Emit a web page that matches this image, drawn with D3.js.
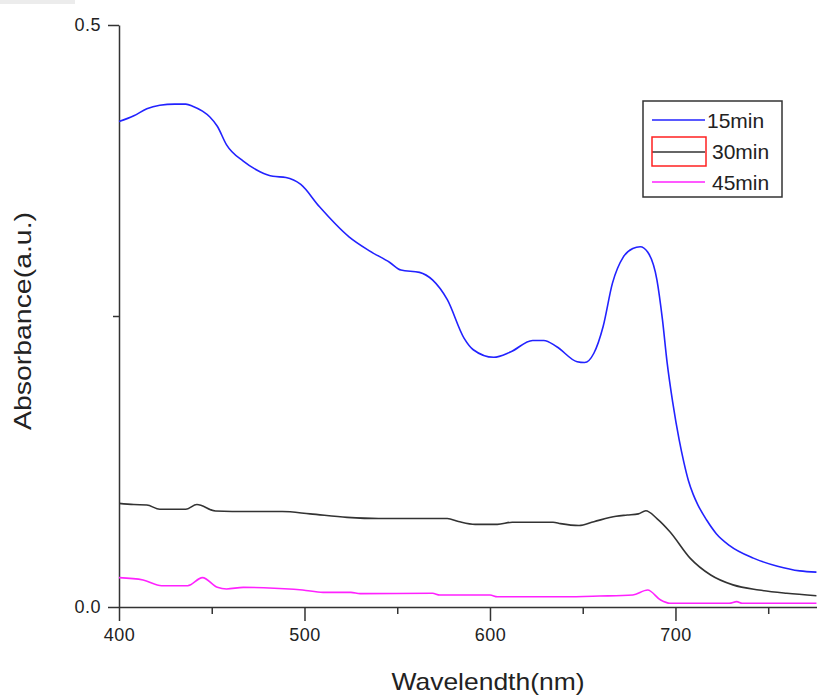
<!DOCTYPE html>
<html>
<head>
<meta charset="utf-8">
<script src="https://cdn.jsdelivr.net/npm/d3@7"></script>
<style>
  body { margin: 0; background: #fff; }
  svg text { font-family: "Liberation Sans", Arial, sans-serif; fill: #222; }
</style>
</head>
<body>
<div id="chart"></div>
<script>
const width = 817;
const height = 697;

// series: wavelength (nm) and absorbance
const wl15  = [400, 408, 415, 422, 430, 436, 440, 445, 449, 453, 458, 467, 476, 483, 490, 498, 508, 524, 535, 546, 552, 562, 569, 577, 586, 591, 602, 611, 623, 629, 636, 647, 651, 656, 661, 666, 672, 677, 681, 685, 690, 693, 695.5, 698.5, 702, 704.5, 707, 709.5, 712, 716.8, 722, 729, 742, 755, 767, 776];
const abs15 = [0.417, 0.422, 0.428, 0.431, 0.432, 0.432, 0.430, 0.426, 0.421, 0.413, 0.397, 0.383, 0.374, 0.370, 0.369, 0.363, 0.344, 0.318, 0.306, 0.296, 0.2895, 0.2875, 0.281, 0.264, 0.231, 0.221, 0.2145, 0.219, 0.229, 0.229, 0.2236, 0.2107, 0.210, 0.218, 0.241, 0.278, 0.301, 0.308, 0.3095, 0.305, 0.281, 0.2466, 0.210, 0.176, 0.1435, 0.1245, 0.1085, 0.097, 0.088, 0.0747, 0.063, 0.053, 0.042, 0.035, 0.031, 0.030];

const wl30  = [400, 408, 415, 422, 436, 442, 452, 470, 488, 503, 523, 540, 577, 583, 592, 604, 612, 634, 638, 648, 656, 668, 674, 680, 684, 690, 697, 708, 719, 731, 745, 760, 776];
const abs30 = [0.089, 0.088, 0.0876, 0.084, 0.084, 0.088, 0.0825, 0.082, 0.082, 0.080, 0.077, 0.076, 0.076, 0.0735, 0.071, 0.071, 0.0728, 0.0728, 0.0716, 0.070, 0.0733, 0.078, 0.079, 0.080, 0.0827, 0.076, 0.0647, 0.0418, 0.0275, 0.019, 0.0146, 0.0118, 0.0097];

const wl45  = [400, 413, 423, 437, 445, 453, 458, 467, 478, 499, 510, 525, 530, 569, 573, 600, 604, 640, 659, 677, 685, 692, 697, 729, 733, 736, 776];
const abs45 = [0.0252, 0.0232, 0.0183, 0.0183, 0.0252, 0.0169, 0.0155, 0.0169, 0.0166, 0.0146, 0.0126, 0.0126, 0.0115, 0.0118, 0.0103, 0.0103, 0.0088, 0.0088, 0.0094, 0.0103, 0.0146, 0.006, 0.0032, 0.0032, 0.0046, 0.0032, 0.0032];

const seriesNames = ["15min", "30min", "45min"];
const seriesColors = ["#2222ff", "#333333", "#ff22ff"];
const xTicks = [400, 450, 500, 550, 600, 650, 700, 750];
const yTicks = [0, 0.25, 0.5];

const svg = d3.select("#chart")
  .append("svg")
    .attr("width", width)
    .attr("height", height);

// faint strip at the top left corner of the original screenshot
svg.append("rect").attr("x", 0).attr("y", 0).attr("width", 75).attr("height", 4).attr("fill", "#ececec");

const x = d3.scaleLinear().domain([400, 776.3]).range([119, 817]);
const y = d3.scaleLinear().domain([0, 0.5]).range([607, 25]);

// x axis
const gx = svg.append("g")
  .attr("transform", "translate(0," + y(0) + ")")
  .call(d3.axisBottom(x)
    .tickValues(xTicks)
    .tickSize(14)
    .tickSizeOuter(0)
    .tickFormat(d => d % 100 === 0 ? d : ""));
gx.selectAll("line").filter(d => d % 100 !== 0).attr("y2", 7);
gx.selectAll("text").attr("y", 21).style("font-size", "18px").style("letter-spacing", "0.5px");

// y axis
const gy = svg.append("g")
  .attr("transform", "translate(" + x(400) + ",0)")
  .call(d3.axisLeft(y)
    .tickValues(yTicks)
    .tickSize(11)
    .tickSizeOuter(0)
    .tickFormat(d => d === 0.25 ? "" : d3.format(".1f")(d)));
gy.selectAll("line").filter(d => d === 0.25).attr("x2", -6);
gy.selectAll("text").attr("x", -18).style("font-size", "18px").style("letter-spacing", "0.5px");

svg.selectAll(".domain, .tick line").attr("stroke", "#333").attr("stroke-width", 1.5);

// curves
const line = d3.line()
  .x(d => x(d[0]))
  .y(d => y(d[1]))
  .curve(d3.curveMonotoneX);

const series = [
  d3.zip(wl15, abs15),
  d3.zip(wl30, abs30),
  d3.zip(wl45, abs45)
];

svg.selectAll(".series")
  .data(series)
  .enter()
  .append("path")
    .attr("class", "series")
    .attr("d", line)
    .attr("fill", "none")
    .attr("stroke", (d, i) => seriesColors[i])
    .attr("stroke-width", 1.6);

// axis titles
svg.append("text")
  .attr("x", 488)
  .attr("y", 690)
  .attr("text-anchor", "middle")
  .attr("textLength", 193)
  .attr("lengthAdjust", "spacingAndGlyphs")
  .style("font-size", "24px")
  .text("Wavelendth(nm)");

svg.append("text")
  .attr("transform", "translate(31,321) rotate(-90)")
  .attr("text-anchor", "middle")
  .attr("textLength", 218)
  .attr("lengthAdjust", "spacingAndGlyphs")
  .style("font-size", "24px")
  .text("Absorbance(a.u.)");

// legend
const legend = svg.append("g");
legend.append("rect")
  .attr("x", 643).attr("y", 101).attr("width", 139).attr("height", 96)
  .attr("fill", "#fff").attr("stroke", "#333").attr("stroke-width", 1.5);

const legendY = [120, 152, 182];
const legendTextY = [128, 159, 190];
seriesNames.forEach((name, i) => {
  legend.append("line")
    .attr("x1", 652).attr("x2", 705)
    .attr("y1", legendY[i]).attr("y2", legendY[i])
    .attr("stroke", seriesColors[i]).attr("stroke-width", 1.6);
  legend.append("text")
    .attr("x", i === 0 ? 707 : 712)
    .attr("y", legendTextY[i])
    .style("font-size", "21px")
    .text(name);
});
// red frame around the 30min key
legend.append("rect")
  .attr("x", 652).attr("y", 137).attr("width", 54).attr("height", 29)
  .attr("fill", "none").attr("stroke", "#ff2020").attr("stroke-width", 1.5);
</script>
</body>
</html>
